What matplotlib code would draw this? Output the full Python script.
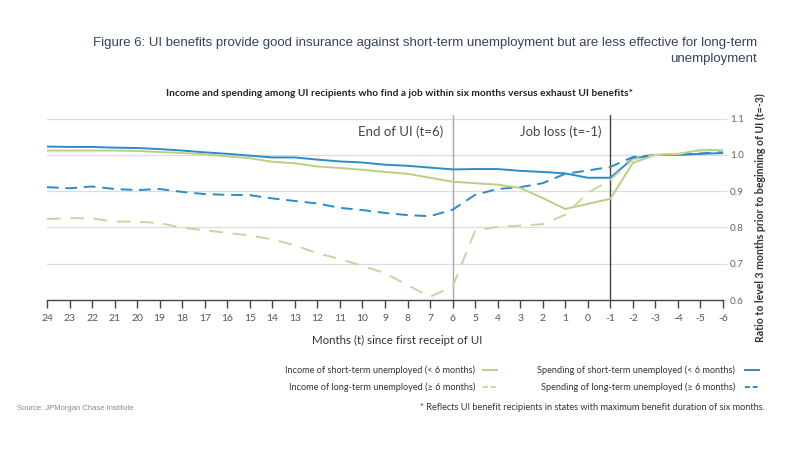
import matplotlib
matplotlib.use("Agg")
import matplotlib.pyplot as plt
from matplotlib.lines import Line2D

# ---- data ----
months = [24, 23, 22, 21, 20, 19, 18, 17, 16, 15, 14, 13, 12, 11, 10, 9, 8, 7, 6,
          5, 4, 3, 2, 1, 0, -1, -2, -3, -4, -5, -6]
spend_short = [1.023, 1.022, 1.022, 1.020, 1.019, 1.016, 1.012, 1.007, 1.003, 0.998,
               0.993, 0.993, 0.987, 0.982, 0.979, 0.973, 0.970, 0.965, 0.960,
               0.961, 0.961, 0.956, 0.953, 0.949, 0.937, 0.937, 0.990, 1.000, 1.000, 1.003, 1.005]
income_short = [1.012, 1.012, 1.012, 1.012, 1.011, 1.008, 1.005, 1.002, 0.996, 0.991,
                0.981, 0.977, 0.968, 0.964, 0.959, 0.953, 0.948, 0.937, 0.926,
                0.922, 0.918, 0.909, 0.881, 0.851, 0.865, 0.879, 0.978, 1.000, 1.002, 1.014, 1.013]
spend_long = [0.911, 0.908, 0.913, 0.906, 0.903, 0.906, 0.898, 0.892, 0.890, 0.889,
              0.880, 0.873, 0.866, 0.854, 0.848, 0.840, 0.834, 0.831, 0.849,
              0.890, 0.906, 0.911, 0.922, 0.948, 0.957, 0.967, 0.994, 1.000, 1.001, 1.004, 1.008]
income_long = [0.823, 0.826, 0.825, 0.816, 0.816, 0.812, 0.799, 0.792, 0.785, 0.778,
               0.767, 0.751, 0.729, 0.713, 0.694, 0.674, 0.641, 0.609, 0.637,
               0.791, 0.802, 0.805, 0.809, 0.835, 0.895, 0.931, 0.987, 1.000, 1.003, 1.012, 1.012]
yticks = [0.6, 0.7, 0.8, 0.9, 1.0, 1.1]
events = [(6, "End of UI (t=6)"), (-1, "Job loss (t=-1)")]
labels = ["Spending of short-term unemployed (< 6 months)",
          "Spending of long-term unemployed (\u2265 6 months)",
          "Income of short-term unemployed (< 6 months)",
          "Income of long-term unemployed (\u2265 6 months)"]

BLUE = "#2a8cc8"
GREEN = "#bccf80"
GREEN_D = "#cbd3a2"
NARROW = ["Lato", "DejaVu Sans"]
TEXT = "#333333"

W, H = 800, 450
fig = plt.figure(figsize=(8, 4.5), dpi=100)
fig.patch.set_facecolor("white")

def fx(x):
    return x / W

def fy(y):
    return 1 - y / H

ax = fig.add_axes([fx(47), fy(300), fx(723) - fx(47), fy(115) - fy(300)])
ax.set_xlim(24, -6)
ax.set_ylim(0.6, 1.11)

styles = [
    (spend_short, BLUE, "-", None),
    (spend_long, BLUE, "--", (6, 3.5)),
    (income_short, GREEN, "-", None),
    (income_long, GREEN_D, "--", (7, 5)),
]
for vals, c, ls, dash in styles:
    kw = {}
    if dash:
        kw["dashes"] = dash
    ax.plot(months, vals, color=c, lw=1.4, ls=ls, zorder=3, **kw)

for v in yticks[1:]:
    ax.axhline(v, color="#dcdcdc", lw=0.9, zorder=1)

ax.axvline(6, color="#a8a8a8", lw=1.0, zorder=2)
ax.axvline(-1, color="#444444", lw=1.0, zorder=2)
for t, lab in events:
    ax.text(t + 0.4, 1.063, lab, ha="right", va="center", fontsize=9.5,
            family=NARROW, color="#444444")

for s in ["top", "left", "right"]:
    ax.spines[s].set_visible(False)
ax.spines["bottom"].set_color("#444444")
ax.spines["bottom"].set_linewidth(1.0)

ax.set_xticks(months)
ax.set_xticklabels([str(m) for m in months], fontsize=7.5, color="#555555", family=NARROW)
ax.tick_params(axis="x", length=6, color="#444444", width=1.0, pad=4)

ax.yaxis.tick_right()
ax.set_yticks(yticks)
ax.set_yticklabels([f"{v:.1f}" for v in yticks], fontsize=7.2, color="#666666", family=NARROW)
ax.tick_params(axis="y", length=3, color="#dcdcdc", pad=2)

fig.text(fx(760), fy(218), "Ratio to level 3 months prior to beginning of UI (t=-3)", fontsize=7.6,
         fontweight="bold", family=NARROW, color=TEXT, rotation=90, ha="center", va="center")
fig.text(fx(397), fy(340), "Months (t) since first receipt of UI", fontsize=8.3, family=NARROW,
         color=TEXT, ha="center", va="center")

# titles
fig.text(fx(757), fy(43), "Figure 6: UI benefits provide good insurance against short-term unemployment but are less effective for long-term",
         ha="right", va="center", fontsize=9.5, color="#35425e", family=["Liberation Sans", "DejaVu Sans"])
fig.text(fx(757), fy(59), "unemployment", ha="right", va="center", fontsize=9.5,
         color="#35425e", family=["Liberation Sans", "DejaVu Sans"])
fig.text(fx(400), fy(93), "Income and spending among UI recipients who find a job within six months versus exhaust UI benefits*",
         ha="center", va="center", fontsize=7.3, fontweight="bold", color="#222222", family=NARROW)

# legend (manual, mirrored layout)
leg = [
    (labels[0], BLUE, "-", None, 745, 759, 735, 370),
    (labels[1], BLUE, "--", (2.5, 1.5), 745, 759, 735, 387),
    (labels[2], GREEN, "-", None, 483, 497, 475, 370),
    (labels[3], GREEN_D, "--", (2.5, 1.5), 483, 497, 475, 387),
]
for lab, c, ls, dash, x0, x1, tx, y in leg:
    kw = {}
    if dash:
        kw["dashes"] = dash
    fig.add_artist(Line2D([fx(x0), fx(x1)], [fy(y), fy(y)], transform=fig.transFigure,
                          color=c, lw=1.4, ls=ls, **kw))
    fig.text(fx(tx), fy(y), lab, ha="right", va="center", fontsize=6.6, color=TEXT, family=NARROW)

fig.text(fx(765), fy(408), "* Reflects UI benefit recipients in states with maximum benefit duration of six months.",
         ha="right", va="center", fontsize=6.6, color=TEXT, family=NARROW)
fig.text(fx(134), fy(408), "Source: JPMorgan Chase Institute", ha="right", va="center",
         fontsize=5.5, color="#888888", family=["Liberation Sans", "DejaVu Sans"])

fig.savefig("out.png", dpi=100, facecolor="white")
